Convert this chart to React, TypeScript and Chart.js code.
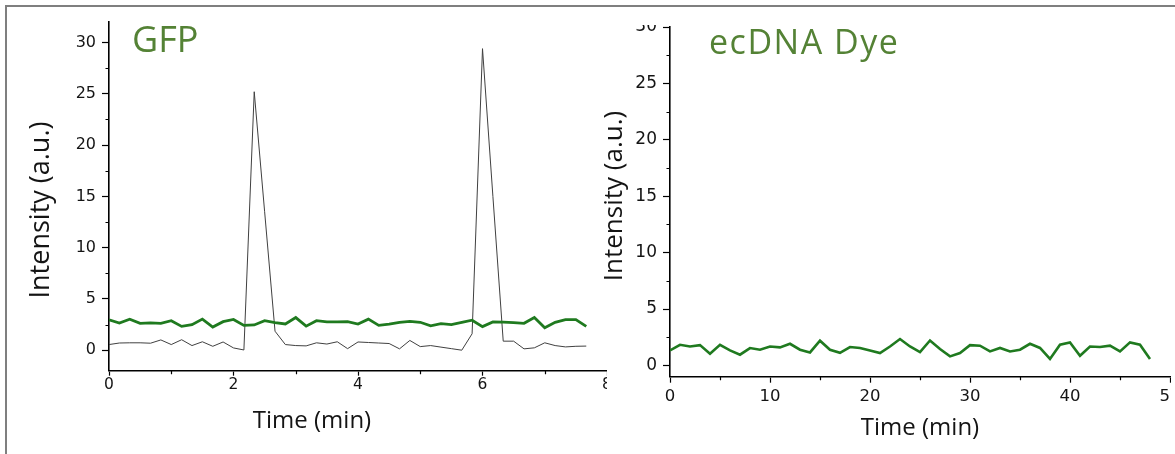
import React, { useEffect, useRef } from 'react';
import { Chart, registerables } from 'chart.js';

Chart.register(...registerables);

// ---------- GFP panel data ----------
const GFP_TIME = [
  0, 0.167, 0.333, 0.5, 0.667, 0.833, 1, 1.167, 1.333, 1.5, 1.667, 1.833,
  2, 2.167, 2.333, 2.5, 2.667, 2.833, 3, 3.167, 3.333, 3.5, 3.667, 3.833,
  4, 4.167, 4.333, 4.5, 4.667, 4.833, 5, 5.167, 5.333, 5.5, 5.667, 5.833,
  6, 6.167, 6.333, 6.5, 6.667, 6.833, 7, 7.167, 7.333, 7.5, 7.667,
];
const GFP_GREEN = [
  2.97, 2.65, 3.02, 2.62, 2.66, 2.62, 2.87, 2.32, 2.48, 3.03, 2.26, 2.78,
  3.0, 2.42, 2.46, 2.88, 2.68, 2.56, 3.18, 2.34, 2.88, 2.76, 2.76, 2.78,
  2.55, 3.03, 2.42, 2.55, 2.72, 2.8, 2.72, 2.38, 2.58, 2.5, 2.7, 2.92,
  2.3, 2.75, 2.74, 2.68, 2.62, 3.18, 2.18, 2.72, 2.98, 2.98, 2.32,
];
const GFP_BLACK = [
  0.55, 0.7, 0.72, 0.72, 0.68, 1.0, 0.55, 1.02, 0.45, 0.82, 0.38, 0.8,
  0.22, 0.02, 25.2, 13.5, 1.85, 0.55, 0.45, 0.42, 0.72, 0.6, 0.82, 0.15,
  0.8, 0.75, 0.7, 0.65, 0.13, 0.95, 0.35, 0.45, 0.3, 0.15, 0.0, 1.6,
  29.4, 15.0, 0.88, 0.88, 0.13, 0.23, 0.72, 0.45, 0.32, 0.38, 0.4,
];
const GFP_X_TICKS = [0, 2, 4, 6, 8];
const GFP_X_MINOR = [1, 3, 5, 7];
const GFP_Y_TICKS = [0, 5, 10, 15, 20, 25, 30];
const GFP_Y_MINOR = [2.5, 7.5, 12.5, 17.5, 22.5, 27.5];

// ---------- ecDNA Dye panel data ----------
const DYE_TIME = [
  0, 1, 2, 3, 4, 5, 6, 7, 8, 9, 10, 11, 12, 13, 14, 15, 16, 17, 18, 19, 20,
  21, 22, 23, 24, 25, 26, 27, 28, 29, 30, 31, 32, 33, 34, 35, 36, 37, 38, 39,
  40, 41, 42, 43, 44, 45, 46, 47, 48,
];
const DYE_GREEN = [
  1.33, 1.83, 1.68, 1.8, 1.04, 1.83, 1.33, 0.95, 1.54, 1.39, 1.68, 1.6, 1.92,
  1.39, 1.15, 2.19, 1.39, 1.12, 1.63, 1.55, 1.33, 1.1, 1.68, 2.34, 1.68, 1.18,
  2.21, 1.45, 0.8, 1.1, 1.8, 1.75, 1.24, 1.55, 1.24, 1.39, 1.92, 1.55, 0.57,
  1.83, 2.04, 0.86, 1.68, 1.63, 1.75, 1.24, 2.04, 1.83, 0.57,
];
const DYE_X_TICKS = [0, 10, 20, 30, 40, 50];
const DYE_X_MINOR = [5, 15, 25, 35, 45];
const DYE_Y_TICKS = [0, 5, 10, 15, 20, 25, 30];
const DYE_Y_MINOR = [2.5, 7.5, 12.5, 17.5, 22.5, 27.5];

const Y_TITLE = 'Intensity (a.u.)';
const X_TITLE = 'Time (min)';
const GFP_LABEL = 'GFP';
const DYE_LABEL = 'ecDNA Dye';

const LINE_GREEN = '#1f7a1f';
const LABEL_GREEN = '#548235';
const TEXT = '#141414';
const TICK_FAMILY = '"DejaVu Sans", sans-serif';
const TITLE_FAMILY = '"Open Sans", sans-serif';

const toPoints = (xs: number[], ys: number[]) => xs.map((x, i) => ({ x, y: ys[i] }));

// short outward minor ticks
const minorTicksPlugin = {
  id: 'minorTicks',
  afterDraw(chart: any, _args: any, opts: any) {
    const { ctx } = chart;
    const xs = chart.scales.x;
    const ys = chart.scales.y;
    const len = opts.len || 3;
    ctx.save();
    ctx.strokeStyle = '#000';
    ctx.lineWidth = 1.2;
    ctx.beginPath();
    (opts.x || []).forEach((v: number) => {
      const px = Math.round(xs.getPixelForValue(v)) + 0.5;
      ctx.moveTo(px, xs.top);
      ctx.lineTo(px, xs.top + len);
    });
    (opts.y || []).forEach((v: number) => {
      const py = Math.round(ys.getPixelForValue(v)) + 0.5;
      ctx.moveTo(ys.right, py);
      ctx.lineTo(ys.right - len, py);
    });
    ctx.stroke();
    ctx.restore();
  },
};

// rotated axis title placed at a given spot of the canvas
const sideTitlePlugin = {
  id: 'sideTitle',
  afterDraw(chart: any, _args: any, opts: any) {
    if (!opts || !opts.text) return;
    const { ctx } = chart;
    ctx.save();
    ctx.translate(opts.x, opts.y);
    ctx.rotate(-Math.PI / 2);
    ctx.font = `${opts.size}px ${TITLE_FAMILY}`;
    ctx.fillStyle = TEXT;
    ctx.textAlign = 'center';
    ctx.textBaseline = 'middle';
    ctx.fillText(opts.text, 0, 0);
    ctx.restore();
  },
};

function axisBase(ticks: number[], tickLen: number, pad: number, fontSize: number) {
  return {
    type: 'linear' as const,
    afterBuildTicks: (s: any) => {
      s.ticks = ticks.map((v) => ({ value: v }));
    },
    grid: {
      drawOnChartArea: false,
      drawTicks: true,
      tickLength: tickLen,
      tickColor: '#000',
      tickWidth: 1.2,
    },
    border: { display: true, color: '#000', width: 1.6 },
    ticks: {
      font: { family: TICK_FAMILY, size: fontSize },
      color: TEXT,
      padding: pad,
      autoSkip: false,
      maxRotation: 0,
      minRotation: 0,
      callback: (v: any) => String(v),
    },
  };
}

function buildLeft(): any {
  return {
    type: 'line',
    data: {
      datasets: [
        {
          data: toPoints(GFP_TIME, GFP_GREEN),
          borderColor: LINE_GREEN,
          borderWidth: 2.8,
          pointRadius: 0,
          tension: 0,
          fill: false,
        },
        {
          data: toPoints(GFP_TIME, GFP_BLACK),
          borderColor: '#404040',
          borderWidth: 1,
          pointRadius: 0,
          tension: 0,
          fill: false,
        },
      ],
    },
    options: {
      responsive: false,
      animation: false,
      layout: { padding: { left: 9, top: 14, right: 0, bottom: 18 } },
      plugins: {
        legend: { display: false },
        tooltip: { enabled: false },
        title: {
          display: true,
          position: 'bottom',
          text: X_TITLE,
          color: TEXT,
          font: { family: TITLE_FAMILY, size: 24, weight: 'normal', lineHeight: 1.2 },
          padding: 0,
        },
        minorTicks: { x: GFP_X_MINOR, y: GFP_Y_MINOR, len: 3.5 },
        sideTitle: { text: Y_TITLE, x: 33, y: 202, size: 27 },
      },
      scales: {
        x: {
          ...axisBase(GFP_X_TICKS, 5, 0, 15.5),
          min: 0,
          max: 8,
          afterFit: (s: any) => {
            s.height = 36.5;
            s.paddingLeft = 0;
            s.paddingRight = 0;
          },
        },
        y: {
          ...axisBase(GFP_Y_TICKS, 7, 6, 16),
          min: -2,
          max: 32,
          afterFit: (s: any) => {
            s.width = 92;
            s.paddingTop = 0;
            s.paddingBottom = 0;
          },
        },
      },
    },
    plugins: [minorTicksPlugin, sideTitlePlugin],
  };
}

function buildRight(): any {
  return {
    type: 'line',
    data: {
      datasets: [
        {
          data: toPoints(DYE_TIME, DYE_GREEN),
          borderColor: LINE_GREEN,
          borderWidth: 2.6,
          pointRadius: 0,
          tension: 0,
          fill: false,
        },
      ],
    },
    options: {
      responsive: false,
      animation: false,
      layout: { padding: { left: 0, top: 19, right: 5, bottom: 0 } },
      plugins: {
        legend: { display: false },
        tooltip: { enabled: false },
        minorTicks: { x: DYE_X_MINOR, y: DYE_Y_MINOR, len: 3.5 },
        sideTitle: { text: Y_TITLE, x: 25, y: 188, size: 26 },
      },
      scales: {
        x: {
          ...axisBase(DYE_X_TICKS, 6, 4, 16.5),
          min: 0,
          max: 50,
          afterFit: (s: any) => {
            s.height = 77.3;
            s.paddingLeft = 0;
            s.paddingRight = 0;
          },
          title: {
            display: true,
            text: X_TITLE,
            color: TEXT,
            font: { family: TITLE_FAMILY, size: 24, weight: 'normal', lineHeight: 1.2 },
            padding: { top: 0, bottom: 11 },
          },
        },
        y: {
          ...axisBase(DYE_Y_TICKS, 7, 6, 17),
          min: -1,
          max: 30,
          afterFit: (s: any) => {
            s.width = 80;
            s.paddingTop = 0;
            s.paddingBottom = 0;
          },
        },
      },
    },
    plugins: [minorTicksPlugin, sideTitlePlugin],
  };
}

export default function App() {
  const leftRef = useRef<HTMLCanvasElement>(null);
  const rightRef = useRef<HTMLCanvasElement>(null);

  useEffect(() => {
    const a = new Chart(leftRef.current as HTMLCanvasElement, buildLeft());
    const b = new Chart(rightRef.current as HTMLCanvasElement, buildRight());
    return () => {
      a.destroy();
      b.destroy();
    };
  }, []);

  const labelStyle: React.CSSProperties = {
    position: 'absolute',
    fontFamily: TITLE_FAMILY,
    color: LABEL_GREEN,
    lineHeight: 1,
    whiteSpace: 'nowrap',
  };

  return (
    <div
      style={{
        position: 'fixed',
        left: 0,
        top: 0,
        width: 1175,
        height: 454,
        background: '#fff',
        overflow: 'hidden',
      }}
    >
      <canvas ref={leftRef} width={599} height={446} style={{ position: 'absolute', left: 8, top: 8 }} />
      <canvas ref={rightRef} width={585} height={446} style={{ position: 'absolute', left: 590, top: 8 }} />
      <div style={{ position: 'absolute', left: 620, top: 8, width: 555, height: 17, background: '#fff' }} />
      <div style={{ position: 'absolute', left: 1171, top: 8, width: 4, height: 446, background: '#fff' }} />
      <div style={{ ...labelStyle, left: 132, top: 20.7, fontSize: 36 }}>{GFP_LABEL}</div>
      <div style={{ ...labelStyle, left: 709, top: 24, fontSize: 34, letterSpacing: '1.5px' }}>{DYE_LABEL}</div>
      <div
        style={{
          position: 'absolute',
          left: 5,
          top: 5,
          right: 0,
          bottom: 0,
          borderTop: '2px solid #7f7f7f',
          borderLeft: '2px solid #7f7f7f',
          pointerEvents: 'none',
        }}
      />
    </div>
  );
}
